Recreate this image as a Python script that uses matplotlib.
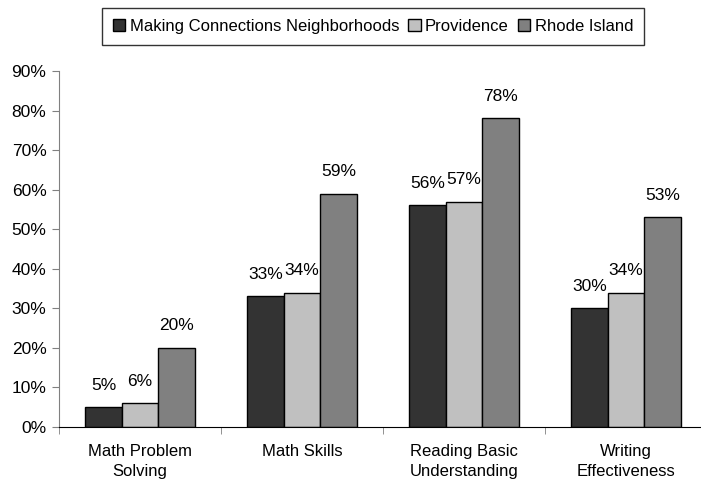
import matplotlib.pyplot as plt
import numpy as np

plt.rcParams['font.family'] = ['Liberation Sans', 'DejaVu Sans']

categories = ['Math Problem\nSolving', 'Math Skills', 'Reading Basic\nUnderstanding', 'Writing\nEffectiveness']
series_names = ['Making Connections Neighborhoods', 'Providence', 'Rhode Island']
mcn = [5, 33, 56, 30]
providence = [6, 34, 57, 34]
rhode_island = [20, 59, 78, 53]
colors = ['#333333', '#c0c0c0', '#808080']

fig = plt.figure(figsize=(7.01, 4.84), dpi=100)
# axis runs past the right edge in the original
ax = fig.add_axes([59 / 701, (484 - 427) / 484, 648 / 701, (427 - 71) / 484])

x = np.arange(len(categories))
w = 0.225
for i, (vals, name) in enumerate(zip([mcn, providence, rhode_island], series_names)):
    bars = ax.bar(x + (i - 1) * w, vals, w, color=colors[i], edgecolor='black',
                  linewidth=1, label=name)
    for b, v in zip(bars, vals):
        ax.annotate(f'{v}%', (b.get_x() + b.get_width() / 2, v),
                    xytext=(0, 16), textcoords='offset points',
                    ha='center', va='center', fontsize=12.5)

ax.set_xlim(-0.5, len(categories) - 0.5)
ax.set_ylim(0, 90)
ax.set_yticks(range(0, 91, 10))
ax.set_yticklabels([f'{t}%' for t in range(0, 91, 10)], fontsize=12.5)
ax.set_xticks(x)
ax.set_xticklabels(categories, fontsize=12, linespacing=1.45)
ax.tick_params(axis='x', length=0, pad=12)
ax.set_xticks(np.arange(-0.5, len(categories), 1), minor=True)
ax.tick_params(axis='x', which='minor', length=5, direction='out', color='#808080')
ax.tick_params(axis='y', length=5, direction='out', color='#808080', pad=4)
ax.spines['top'].set_visible(False)
ax.spines['right'].set_visible(False)
ax.spines['left'].set_color('#808080')
ax.spines['bottom'].set_color('black')

leg = fig.legend(loc='upper center', bbox_to_anchor=(373 / 701, 1 - 8 / 484), ncol=3,
                 frameon=True, fancybox=False, edgecolor='black', fontsize=12,
                 handlelength=0.75, handleheight=0.75, handletextpad=0.25,
                 columnspacing=0.55, borderpad=0.65, borderaxespad=0)
leg.get_frame().set_linewidth(1)

fig.savefig('out.png', dpi=100)
